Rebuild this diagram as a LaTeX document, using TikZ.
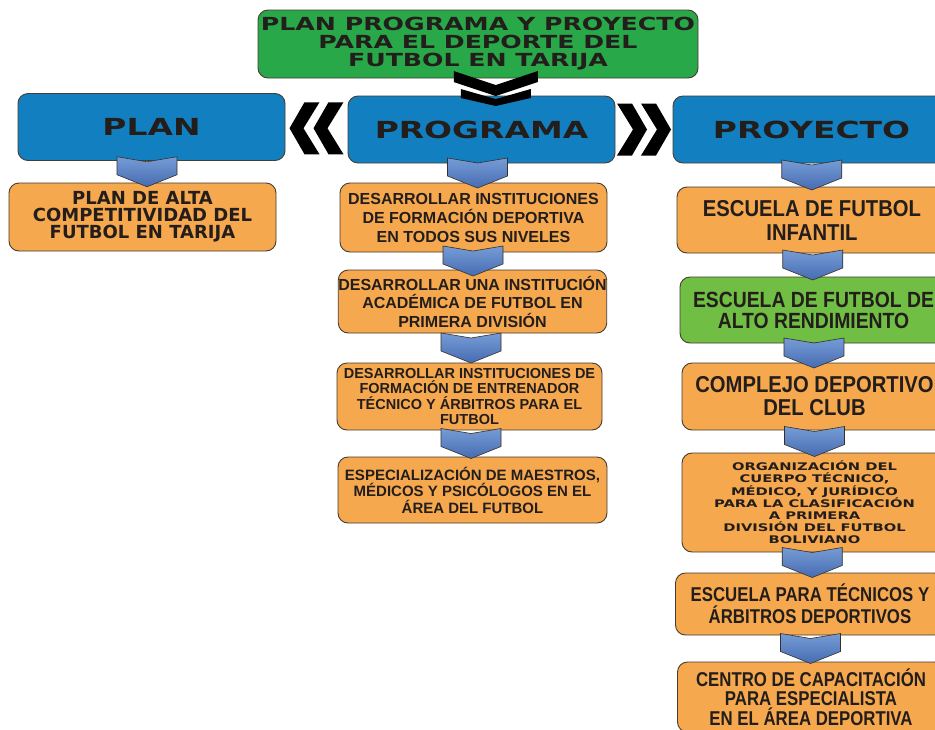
\documentclass[tikz,border=0pt]{standalone}
\usepackage{fontspec}
\usetikzlibrary{positioning,calc}
\usepackage{xcolor}
\definecolor{titlegreen}{RGB}{40,168,72}
\definecolor{leafgreen}{RGB}{112,190,68}
\definecolor{headblue}{RGB}{18,128,192}
\definecolor{boxorange}{RGB}{246,168,78}
\definecolor{chevlight}{RGB}{118,156,214}
\definecolor{chevdark}{RGB}{70,108,178}
\definecolor{edgegray}{RGB}{70,60,50}
\definecolor{inkdark}{RGB}{35,30,28}
\newfontfamily\widefont[FakeStretch=1.4]{DejaVu Sans}
\newfontfamily\dejafont{DejaVu Sans}
\newfontfamily\arialfont{Liberation Sans}
\newfontfamily\narrowfont[FakeStretch=0.88]{Liberation Sans}
\newfontfamily\tightfont[FakeStretch=0.84]{Liberation Sans}

\begin{document}
\begin{tikzpicture}[x=1pt,y=-1pt]
    \tikzset{
        card/.style={draw=edgegray, line width=0.9pt, rounded corners=10pt,
            align=center, text=inkdark, inner sep=0pt},
        topcard/.style={card, fill=titlegreen, minimum width=440pt, minimum height=68pt,
            font={\widefont\bfseries\fontsize{18}{18}\selectfont}},
        headcard/.style={card, fill=headblue, minimum width=267pt, minimum height=67pt,
            font={\widefont\bfseries\fontsize{23.5}{26}\selectfont}},
        taskcard/.style={card, fill=boxorange},
        downchev/.pic={
            \draw[edgegray!80!black, line width=0.6pt, top color=chevlight, bottom color=chevdark]
                (-30,-15) -- (0,-10) -- (30,-15) -- (30,3) -- (0,15) -- (-30,3) -- cycle;
        },
        blackdown/.pic={
            \fill[black] (-42,-16) -- (0,-2) -- (42,-16) -- (42,-5) -- (0,9) -- (-42,-5) -- cycle;
            \fill[black] (-35,2) -- (0,12) -- (35,2) -- (35,11) -- (0,19) -- (-35,11) -- cycle;
        },
        blackleft/.pic={
            \fill[black] (-27,0) -- (-12,-26) -- (3,-26) -- (-13,0) -- (3,26) -- (-12,26) -- cycle;
            \fill[black] (-3,0) -- (12,-26) -- (27,-26) -- (11,0) -- (27,26) -- (12,26) -- cycle;
        }
    }
    \useasboundingbox (0,0) rectangle (935,729);
    \fill[white] (0,0) rectangle (935,729);
    \clip (0,0) rectangle (935,729);

    % Title
    \node[topcard] (title) at (478,44) {PLAN PROGRAMA Y PROYECTO\\PARA EL DEPORTE DEL\\FUTBOL EN TARIJA};

    % Headings
    \node[headcard] (plan) at (151.5,127) {PLAN};
    \node[headcard] (prog) at (481.5,129.5) {PROGRAMA};
    \node[headcard, minimum width=277pt] (proy) at (811.5,129.5) {PROYECTO};

    % Plan column
    \node[taskcard, minimum width=267pt, minimum height=68pt,
        font={\dejafont\bfseries\fontsize{18}{17}\selectfont}] (alta) at (142.5,217)
        {PLAN DE ALTA\\COMPETITIVIDAD DEL\\FUTBOL EN TARIJA};

    % Programa column
    \node[taskcard, minimum width=267pt, minimum height=69pt,
        font={\arialfont\bfseries\fontsize{16}{19}\selectfont}] (inst) at (473.5,217.5)
        {DESARROLLAR INSTITUCIONES\\DE FORMACIÓN DEPORTIVA\\EN TODOS SUS NIVELES};
    \node[taskcard, minimum width=265pt, minimum height=63pt,
        font={\arialfont\bfseries\fontsize{16}{18.5}\selectfont}] (acad) at (472.5,301.5)
        {DESARROLLAR UNA INSTITUCIÓN\\ACADÉMICA DE FUTBOL EN\\PRIMERA DIVISIÓN};
    \node[taskcard, minimum width=265pt, minimum height=67pt,
        font={\arialfont\bfseries\fontsize{14.5}{15.5}\selectfont}] (entr) at (469.5,396.5)
        {DESARROLLAR INSTITUCIONES DE\\FORMACIÓN DE ENTRENADOR\\TÉCNICO Y ÁRBITROS PARA EL\\FUTBOL};
    \node[taskcard, minimum width=269pt, minimum height=66pt,
        font={\arialfont\bfseries\fontsize{15}{16.5}\selectfont}] (espe) at (472.5,490)
        {ESPECIALIZACIÓN DE MAESTROS,\\MÉDICOS Y PSICÓLOGOS EN EL\\ÁREA DEL FUTBOL};

    % Proyecto column
    \node[taskcard, minimum width=270pt, minimum height=66pt,
        font={\narrowfont\bfseries\fontsize{23}{24}\selectfont}] (infa) at (812,220)
        {ESCUELA DE FUTBOL\\INFANTIL};
    \node[card, fill=leafgreen, minimum width=267pt, minimum height=66pt,
        font={\narrowfont\bfseries\fontsize{22}{21}\selectfont}] (alto) at (813.5,310)
        {ESCUELA DE FUTBOL DE\\ALTO RENDIMIENTO};
    \node[taskcard, minimum width=265pt, minimum height=67pt,
        font={\narrowfont\bfseries\fontsize{23}{23}\selectfont}] (comp) at (814.5,396.5)
        {COMPLEJO DEPORTIVO\\DEL CLUB};
    \node[taskcard, minimum width=265pt, minimum height=99pt,
        font={\widefont\bfseries\fontsize{10.5}{12.2}\selectfont}] (orga) at (814.5,502.5)
        {ORGANIZACIÓN DEL\\CUERPO TÉCNICO,\\MÉDICO, Y JURÍDICO\\PARA LA CLASIFICACIÓN\\A PRIMERA\\DIVISIÓN DEL FUTBOL\\BOLIVIANO};
    \node[taskcard, minimum width=269pt, minimum height=62pt,
        font={\tightfont\bfseries\fontsize{20}{22}\selectfont}] (tecn) at (810,604)
        {ESCUELA PARA TÉCNICOS Y\\ÁRBITROS DEPORTIVOS};
    \node[taskcard, minimum width=267pt, minimum height=70pt,
        font={\tightfont\bfseries\fontsize{20}{19.5}\selectfont}] (cent) at (811,697)
        {CENTRO DE CAPACITACIÓN\\PARA ESPECIALISTA\\EN EL ÁREA DEPORTIVA};

    % Black chevrons
    \pic[xshift=16pt] at ($(title.south)!0.5!(prog.north)$) {blackdown};
    \pic at ($(plan.east)!0.5!(prog.west)$) {blackleft};
    \pic[xscale=-1] at ($(prog.east)!0.5!(proy.west)$) {blackleft};

    % Blue chevrons
    \pic at ($(plan.south)!0.5!(alta.north)$) {downchev};
    \pic at ($(prog.south)!0.5!(inst.north)$) {downchev};
    \pic at ($(inst.south)!0.5!(acad.north)$) {downchev};
    \pic at ($(acad.south)!0.5!(entr.north)$) {downchev};
    \pic at ($(entr.south)!0.5!(espe.north)$) {downchev};
    \pic at ($(proy.south)!0.5!(infa.north)$) {downchev};
    \pic at ($(infa.south)!0.5!(alto.north)$) {downchev};
    \pic at ($(alto.south)!0.5!(comp.north)$) {downchev};
    \pic at ($(comp.south)!0.5!(orga.north)$) {downchev};
    \pic at ($(orga.south)!0.5!(tecn.north)$) {downchev};
    \pic at ($(tecn.south)!0.5!(cent.north)$) {downchev};
\end{tikzpicture}
\end{document}
